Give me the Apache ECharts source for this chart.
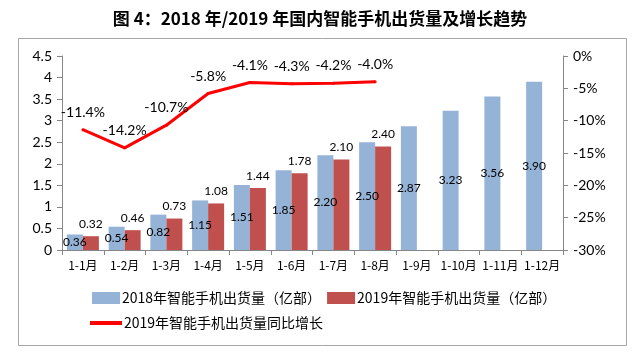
<!DOCTYPE html>
<html><head><meta charset="utf-8">
<script src="https://cdn.jsdelivr.net/npm/echarts@6/dist/echarts.min.js"></script>
<style>html,body{margin:0;padding:0;background:#fff}#c{width:640px;height:358px}</style>
</head><body><div id="c"></div>
<script>
var categories = ['1-1月','1-2月','1-3月','1-4月','1-5月','1-6月','1-7月','1-8月','1-9月','1-10月','1-11月','1-12月'];
var ship2018 = [0.36,0.54,0.82,1.15,1.51,1.85,2.20,2.50,2.87,3.23,3.56,3.90];
var ship2019 = [0.32,0.46,0.73,1.08,1.44,1.78,2.10,2.40,null,null,null,null];
var growth2019 = [-11.4,-14.2,-10.7,-5.8,-4.1,-4.3,-4.2,-4.0,null,null,null,null];
var leftTicks = {min:0,max:4.5,interval:0.5};
var rightTicks = {min:-30,max:0,interval:5};
var names = ['2018年智能手机出货量（亿部）','2019年智能手机出货量（亿部）','2019年智能手机出货量同比增长'];

var chart = echarts.init(document.getElementById('c'), null, {renderer:'canvas'});
var numFont = 'Lato, "Noto Sans", sans-serif';
var cjkFont = '"Noto Sans CJK SC", sans-serif';
var axisColor = '#868686';
chart.setOption({
  animation:false,
  title:{text:'图 4：2018 年/2019 年国内智能手机出货量及增长趋势',left:'center',top:5,
    textStyle:{fontFamily:cjkFont,fontWeight:'bold',fontSize:17,color:'#000'}},
  graphic:[{type:'rect',shape:{x:18.5,y:38.5,width:608,height:307},style:{fill:'none',stroke:'#a6a6a6',lineWidth:1},silent:true}],
  legend:[
    {data:[names[0],names[1]],left:92,top:291,padding:0,itemWidth:28,itemHeight:12,itemGap:6,icon:'rect',
      textStyle:{fontFamily:cjkFont,fontSize:14,color:'#000',padding:[0,0,0,-3]}},
    {data:[names[2]],left:90,top:316,padding:0,itemWidth:32,itemHeight:4,icon:'rect',
      textStyle:{fontFamily:cjkFont,fontSize:14,color:'#000',padding:[0,0,0,-3]}}
  ],
  grid:{left:62,right:77,top:56,bottom:108},
  xAxis:{type:'category',data:categories,
    axisLine:{lineStyle:{color:axisColor}},
    axisTick:{show:true,length:5,lineStyle:{color:axisColor}},
    axisLabel:{interval:0,fontFamily:cjkFont,fontSize:12,color:'#000',margin:9}},
  yAxis:[
    {type:'value',min:leftTicks.min,max:leftTicks.max,interval:leftTicks.interval,
      axisLine:{show:true,lineStyle:{color:axisColor}},
      axisTick:{show:true,length:5,lineStyle:{color:axisColor}},
      splitLine:{show:false},
      axisLabel:{fontFamily:numFont,fontSize:14,color:'#000',margin:10}},
    {type:'value',position:'right',min:rightTicks.min,max:rightTicks.max,interval:rightTicks.interval,
      axisLine:{show:true,lineStyle:{color:axisColor}},
      axisTick:{show:true,length:5,lineStyle:{color:axisColor}},
      splitLine:{show:false},
      axisLabel:{fontFamily:numFont,fontSize:14,color:'#000',margin:10,formatter:'{value}%'}}
  ],
  series:[
    {name:names[0],type:'bar',data:ship2018,barWidth:16,barGap:'0%',
      itemStyle:{color:'#95B3D7'},
      label:{show:true,position:'inside',fontFamily:numFont,fontSize:12,color:'#000',
        formatter:function(p){return p.value.toFixed(2);}}},
    {name:names[1],type:'bar',data:ship2019,barWidth:16,barGap:'0%',
      itemStyle:{color:'#C0504D'},
      label:{show:true,position:'top',distance:6,fontFamily:numFont,fontSize:12,color:'#000',
        formatter:function(p){return p.value==null?'':p.value.toFixed(2);}}},
    {name:names[2],type:'line',yAxisIndex:1,data:growth2019,symbol:'circle',symbolSize:3,showSymbol:true,
      itemStyle:{color:'#FF0000'},lineStyle:{color:'#FF0000',width:3},
      label:{show:true,position:'top',distance:9,fontFamily:numFont,fontSize:14,color:'#000',
        formatter:function(p){return p.value==null?'':p.value.toFixed(1)+'%';}},
      labelLayout:{hideOverlap:false},
      z:5}
  ]
});
</script></body></html>
